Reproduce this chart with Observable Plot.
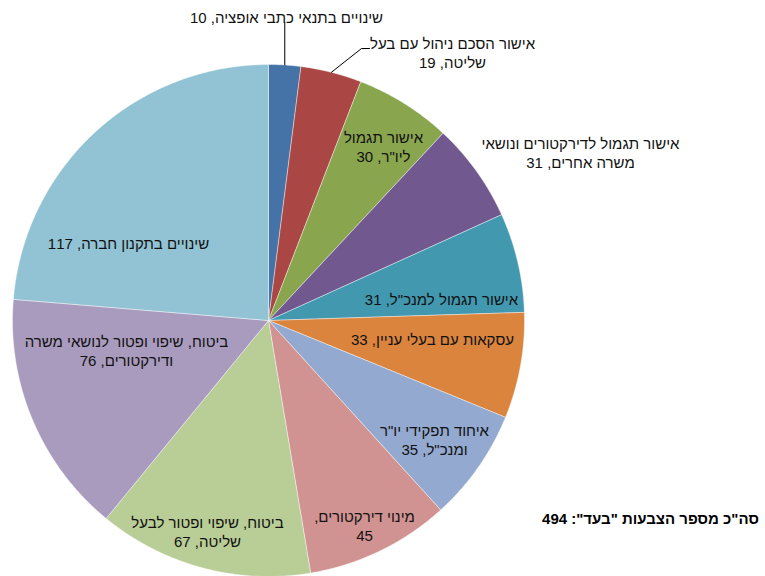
<!DOCTYPE html>
<html>
<head>
<meta charset="utf-8">
<script src="https://cdn.jsdelivr.net/npm/d3@7"></script>
<script src="https://cdn.jsdelivr.net/npm/@observablehq/plot@0.6"></script>
<style>
  html, body { margin: 0; padding: 0; background: #fff; }
  #chart svg { display: block; }
</style>
</head>
<body>
<div id="chart"></div>
<script>
// ---- data ----
const categories = [
  "שינויים בתנאי כתבי אופציה",
  "אישור הסכם ניהול עם בעל שליטה",
  "אישור תגמול ליו\"ר",
  "אישור תגמול לדירקטורים ונושאי משרה אחרים",
  "אישור תגמול למנכ\"ל",
  "עסקאות עם בעלי עניין",
  "איחוד תפקידי יו\"ר ומנכ\"ל",
  "מינוי דירקטורים",
  "ביטוח, שיפוי ופטור לבעל שליטה",
  "ביטוח, שיפוי ופטור לנושאי משרה ודירקטורים",
  "שינויים בתקנון חברה"
];
const values = [10, 19, 30, 31, 31, 33, 35, 45, 67, 76, 117];
const totalLabel = "סה\"כ מספר הצבעות \"בעד\":";

// ---- styles / layout ----
const colors = ["#4572A7", "#AA4643", "#89A54E", "#71588F", "#4198AF", "#DB843D",
                "#93A9CF", "#D19392", "#B9CD96", "#A99BBD", "#92C3D4"];
const W = 765, H = 576;
const cx = 268, cy = 320, R = 256;
const wrapAfter = [0, 5, 2, 4, 0, 0, 3, 2, 4, 5, 0];
const labelPos = [
  [286, 16], [452, 52], [383, 146], [580, 152], [441, 298], [432, 338],
  [434, 439], [364, 525], [207, 531], [126, 350], [128, 242]
];
const FONT = "'Liberation Sans', Arial, sans-serif";

// ---- geometry from data ----
const arcs = d3.pie().sort(null).value(d => d)(values);
const polar = (a, r) => ({x: cx + r * Math.sin(a), y: cy - r * Math.cos(a)});

const sliceMarks = arcs.map((a, i) => {
  const pts = [{x: cx, y: cy}];
  const n = Math.max(2, Math.ceil((a.endAngle - a.startAngle) / 0.005));
  for (let k = 0; k <= n; k++) {
    pts.push(polar(a.startAngle + (a.endAngle - a.startAngle) * k / n, R));
  }
  pts.push({x: cx, y: cy});
  return Plot.line(pts, {x: "x", y: "y", fill: colors[i], stroke: "#ffffff",
                         strokeWidth: 0.6, strokeOpacity: 0.7, curve: "linear"});
});

const labels = categories.map((c, i) => {
  const words = (c + ", " + values[i]).split(" ");
  const k = wrapAfter[i];
  const text = k > 0 ? words.slice(0, k).join(" ") + "\n" + words.slice(k).join(" ") : words.join(" ");
  return {text, x: labelPos[i][0], y: labelPos[i][1]};
});

// leader lines for the two outside labels
const mid = a => (a.startAngle + a.endAngle) / 2;
const p0 = polar(mid(arcs[0]), R);
const p1 = polar(mid(arcs[1]), R);
const leaders = [
  {id: 0, x: p0.x, y: p0.y}, {id: 0, x: p0.x, y: 22},
  {id: 1, x: p1.x, y: p1.y}, {id: 1, x: 361, y: 48}, {id: 1, x: 369, y: 48}
];

const chart = Plot.plot({
  width: W, height: H,
  margin: 0,
  style: {background: "#fff", fontFamily: FONT},
  x: {domain: [0, W], range: [0, W], axis: null},
  y: {domain: [0, H], range: [0, H], axis: null},
  marks: [
    ...sliceMarks,
    Plot.line(leaders, {x: "x", y: "y", z: "id", stroke: "#000", strokeWidth: 1}),
    Plot.text(labels, {x: "x", y: "y", text: "text", fontSize: 15, fill: "#111",
                       lineHeight: 1.25, fontFamily: FONT, textAnchor: "middle"}),
    Plot.text([totalLabel + " " + d3.sum(values)], {x: () => 650, y: () => 519, text: d => d,
                       fontSize: 15, fontWeight: "bold", fill: "#000", fontFamily: FONT, textAnchor: "middle"})
  ]
});
chart.querySelectorAll("text").forEach(t => {
  t.setAttribute("direction", "rtl");
  t.style.direction = "rtl";
  t.style.unicodeBidi = "embed";
});
document.getElementById("chart").appendChild(chart);
</script>
</body>
</html>
